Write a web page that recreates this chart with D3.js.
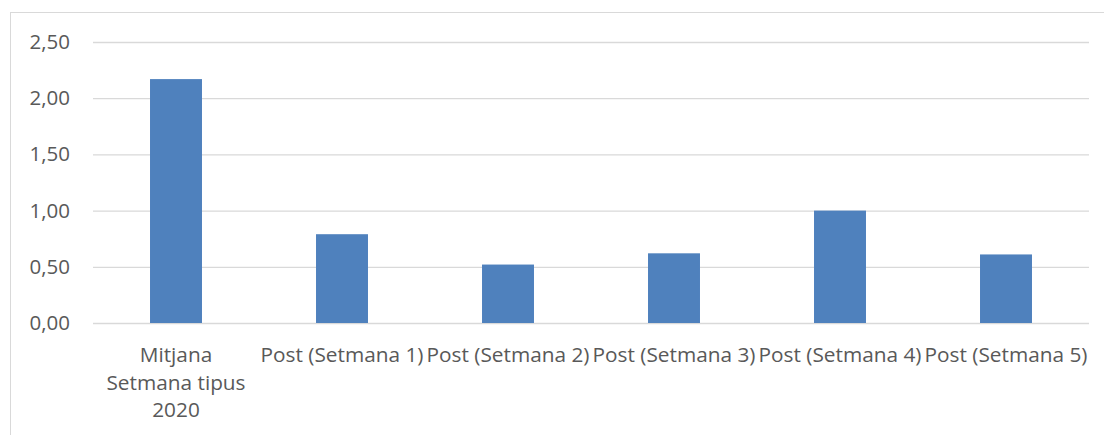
<!DOCTYPE html>
<html>
<head>
<meta charset="utf-8">
<script src="https://cdn.jsdelivr.net/npm/d3@7"></script>
<style>
body { margin: 0; background: #fff; }
svg { display: block; }
</style>
</head>
<body>
<svg></svg>
<script>
// chart values
var categories = ["Mitjana Setmana tipus 2020", "Post (Setmana 1)", "Post (Setmana 2)",
                  "Post (Setmana 3)", "Post (Setmana 4)", "Post (Setmana 5)"];
var values = [2.17, 0.79, 0.52, 0.62, 1.00, 0.61];
var yTicks = [0, 0.5, 1, 1.5, 2, 2.5];

function chart() {
    var width = 1104,
        height = 435;
    var left = 93, right = 1089, top = 42, bottom = 323;
    var font = "'Open Sans', sans-serif";

    var svg = d3.select("svg")
        .attr("width", width)
        .attr("height", height);

    svg.selectAll("*").remove();

    // chart area border
    svg.append("rect")
        .attr("x", 10.5).attr("y", 12.5)
        .attr("width", 1200).attr("height", 500)
        .attr("fill", "none")
        .attr("stroke", "#d9d9d9");

    var x = d3.scaleBand().domain(categories).range([left, right])
        .paddingInner(0.687).paddingOuter(0.3435);
    var y = d3.scaleLinear().domain([0, 2.5]).range([bottom, top]);

    var fmt = function(d) { return d3.format(".2f")(d).replace(".", ","); };

    var yAxis = svg.append("g")
        .attr("transform", "translate(" + left + ",0)")
        .call(d3.axisLeft(y).tickValues(yTicks).tickFormat(fmt)
              .tickSize(-(right - left)).tickPadding(23));
    yAxis.select(".domain").remove();
    yAxis.selectAll("line").attr("stroke", "#d9d9d9").attr("stroke-width", 1.3);
    yAxis.selectAll("text")
        .attr("fill", "#595959")
        .style("font-family", font)
        .style("font-size", "20.5px");

    svg.append("g").selectAll("rect")
        .data(values)
        .enter().append("rect")
        .attr("x", function(d, i) { return x(categories[i]); })
        .attr("width", x.bandwidth())
        .attr("y", function(d) { return y(d); })
        .attr("height", function(d) { return y(0) - y(d); })
        .attr("fill", "#4f81bd");

    // category labels, first one wraps onto three lines
    var wrapped = {"Mitjana Setmana tipus 2020": ["Mitjana", "Setmana tipus", "2020"]};
    var labels = svg.append("g").selectAll("text")
        .data(categories)
        .enter().append("text")
        .attr("x", function(d) { return x(d) + x.bandwidth() / 2; })
        .attr("y", 362)
        .attr("text-anchor", "middle")
        .attr("fill", "#595959")
        .style("font-family", font)
        .style("font-size", "20.8px");
    labels.each(function(d) {
        var lines = wrapped[d] || [d];
        var t = d3.select(this);
        lines.forEach(function(l, k) {
            t.append("tspan")
                .attr("x", t.attr("x"))
                .attr("dy", k === 0 ? 0 : 27.5)
                .text(l);
        });
    });
}

chart();
</script>
</body>
</html>
